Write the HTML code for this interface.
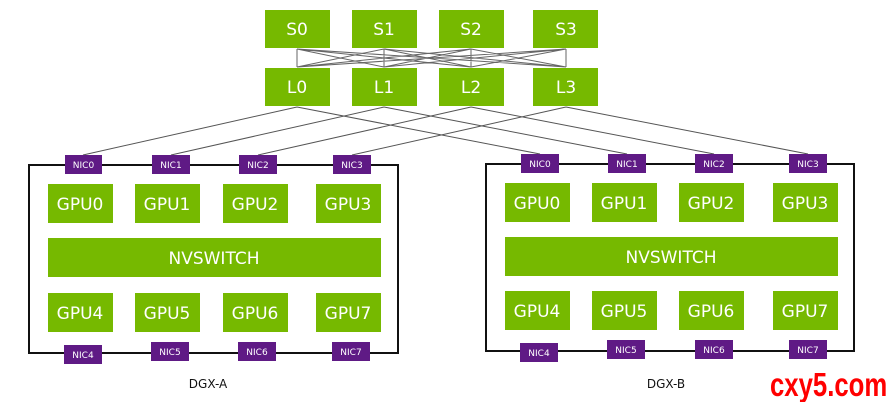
<!DOCTYPE html>
<html><head><meta charset="utf-8"><style>
html,body{margin:0;padding:0;background:#fff;width:889px;height:402px;overflow:hidden}
svg text{font-family:"DejaVu Sans","Liberation Sans",sans-serif}
</style></head><body>
<svg width="889" height="402" viewBox="0 0 889 402" xmlns="http://www.w3.org/2000/svg">
<g stroke="#666" stroke-width="1" fill="none">
<path d="M297,49 L297,67 M297,49 L384,67 M297,49 L471,67 M297,49 L566,67
M384,49 L297,67 M384,49 L384,67 M384,49 L471,67 M384,49 L566,67
M471,49 L297,67 M471,49 L384,67 M471,49 L471,67 M471,49 L566,67
M566,49 L297,67 M566,49 L384,67 M566,49 L471,67 M566,49 L566,67"/>
<path stroke="#555" d="M297,107 L83,155 M297,107 L540,154
M384,107 L171,155 M384,107 L627,154
M471,107 L258,155 M471,107 L714,154
M566,107 L352,155 M566,107 L808,154"/>
</g>
<g stroke="#111" stroke-width="2" fill="none">
<rect x="29" y="165" width="369" height="188"/>
<rect x="486" y="164" width="368" height="187"/>
</g>
<g fill="#76b900">
<rect x="265" y="10" width="65" height="38"/><rect x="352" y="10" width="65" height="38"/>
<rect x="439" y="10" width="65" height="38"/><rect x="533" y="10" width="65" height="38"/>
<rect x="265" y="68" width="65" height="38"/><rect x="352" y="68" width="65" height="38"/>
<rect x="439" y="68" width="65" height="38"/><rect x="533" y="68" width="65" height="38"/>
<rect x="48" y="184" width="65" height="39"/><rect x="135" y="184" width="65" height="39"/>
<rect x="223" y="184" width="65" height="39"/><rect x="316" y="184" width="65" height="39"/>
<rect x="48" y="238" width="333" height="39"/>
<rect x="48" y="293" width="65" height="39"/><rect x="135" y="293" width="65" height="39"/>
<rect x="223" y="293" width="65" height="39"/><rect x="316" y="293" width="65" height="39"/>
<rect x="505" y="183" width="65" height="39"/><rect x="592" y="183" width="65" height="39"/>
<rect x="679" y="183" width="65" height="39"/><rect x="773" y="183" width="65" height="39"/>
<rect x="505" y="237" width="333" height="39"/>
<rect x="505" y="291" width="65" height="39"/><rect x="592" y="291" width="65" height="39"/>
<rect x="679" y="291" width="65" height="39"/><rect x="773" y="291" width="65" height="39"/>
</g>
<g fill="#fff" font-size="17" text-anchor="middle">
<text x="297" y="35">S0</text><text x="384" y="35">S1</text><text x="471" y="35">S2</text><text x="566" y="35">S3</text>
<text x="297" y="93">L0</text><text x="384" y="93">L1</text><text x="471" y="93">L2</text><text x="566" y="93">L3</text>
<text x="80" y="210">GPU0</text><text x="167" y="210">GPU1</text><text x="255" y="210">GPU2</text><text x="348" y="210">GPU3</text>
<text x="214" y="264">NVSWITCH</text>
<text x="80" y="319">GPU4</text><text x="167" y="319">GPU5</text><text x="255" y="319">GPU6</text><text x="348" y="319">GPU7</text>
<text x="537" y="209">GPU0</text><text x="624" y="209">GPU1</text><text x="711" y="209">GPU2</text><text x="805" y="209">GPU3</text>
<text x="671" y="263">NVSWITCH</text>
<text x="537" y="317">GPU4</text><text x="624" y="317">GPU5</text><text x="711" y="317">GPU6</text><text x="805" y="317">GPU7</text>
</g>
<g fill="#5f1a85">
<rect x="65" y="155" width="37" height="19"/><rect x="152" y="155" width="38" height="19"/>
<rect x="239" y="155" width="38" height="19"/><rect x="333" y="155" width="38" height="19"/>
<rect x="64" y="345" width="38" height="19"/><rect x="151" y="342" width="38" height="19"/>
<rect x="238" y="342" width="38" height="19"/><rect x="332" y="342" width="38" height="19"/>
<rect x="521" y="154" width="38" height="19"/><rect x="608" y="154" width="38" height="19"/>
<rect x="695" y="154" width="38" height="19"/><rect x="789" y="154" width="38" height="19"/>
<rect x="520" y="343" width="38" height="19"/><rect x="607" y="340" width="38" height="19"/>
<rect x="695" y="340" width="38" height="19"/><rect x="789" y="340" width="38" height="19"/>
</g>
<g fill="#fff" font-size="9" text-anchor="middle">
<text x="83.5" y="168">NIC0</text><text x="171" y="168">NIC1</text><text x="258" y="168">NIC2</text><text x="352" y="168">NIC3</text>
<text x="83" y="358">NIC4</text><text x="170" y="355">NIC5</text><text x="257" y="355">NIC6</text><text x="351" y="355">NIC7</text>
<text x="540" y="167">NIC0</text><text x="627" y="167">NIC1</text><text x="714" y="167">NIC2</text><text x="808" y="167">NIC3</text>
<text x="539" y="356">NIC4</text><text x="626" y="353">NIC5</text><text x="714" y="353">NIC6</text><text x="808" y="353">NIC7</text>
</g>
<g fill="#111" font-size="12" text-anchor="middle">
<text x="208" y="388">DGX-A</text><text x="666" y="388">DGX-B</text>
</g>
<text x="0" y="0" transform="translate(770,396) scale(0.78,1)" fill="#ff0000" font-size="33" font-weight="bold" style="font-family:'Liberation Sans Narrow','Liberation Sans',sans-serif">cxy5.com</text>
</svg>
</body></html>
